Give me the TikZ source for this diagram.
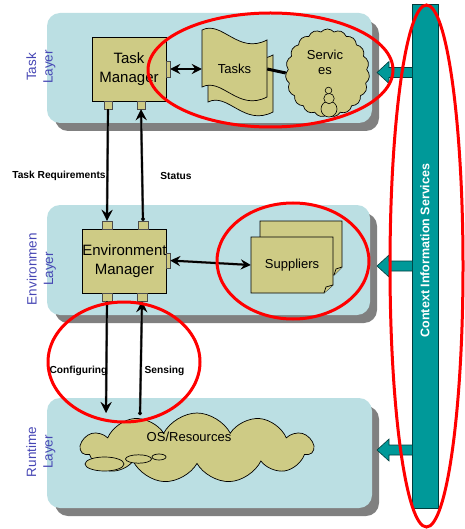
\documentclass[tikz,border=0pt]{standalone}
\usepackage{fontspec}
\setmainfont{Liberation Sans}
\usetikzlibrary{shapes.symbols,arrows.meta}
\definecolor{panel}{RGB}{187,223,227}
\definecolor{khaki}{RGB}{206,203,133}
\definecolor{tealc}{RGB}{0,153,153}
\definecolor{lbl}{RGB}{70,70,180}
\definecolor{shad}{RGB}{128,128,128}
\newcommand{\cisarrow}[1]{%
  \draw[tealarr] (412,#1-5) -- (389,#1-5) -- (389,#1-11) -- (377,#1) -- (389,#1+11) -- (389,#1+5) -- (412,#1+5);}
\begin{document}
\begin{tikzpicture}[x=1pt,y=-1pt,
  panelbox/.style={fill=panel, rounded corners=13pt},
  panelshadow/.style={fill=shad, rounded corners=13pt},
  mgr/.style={draw=black, fill=khaki, line width=0.8pt, inner sep=0pt, align=center,
    font=\fontsize{15}{19}\selectfont},
  port/.style={draw=black!70, fill=khaki, line width=0.4pt, inner sep=0pt},
  shapeline/.style={draw=black, fill=khaki, line width=0.7pt},
  txt/.style={inner sep=0pt, align=center, font=\fontsize{13}{15}\selectfont},
  lbltxt/.style={inner sep=0pt, font=\bfseries\fontsize{10.2}{12}\selectfont},
  layerlbl/.style={inner sep=0pt, align=center, rotate=90, text=lbl,
    font=\fontsize{13.5}{16.5}\selectfont},
  arr/.style={line width=1.8pt, -{Stealth[length=11pt,width=11pt,inset=4pt]}},
  arrd/.style={line width=1.8pt, {Circle[length=3.5pt]}-{Stealth[length=11pt,width=11pt,inset=4pt]}},
  arrs/.style={draw=shad, line width=2.6pt, -{Stealth[length=11pt,width=11pt,inset=4pt]}, xshift=3pt, yshift=-1.5pt},
  darr/.style={line width=2pt, {Stealth[length=10pt,width=10pt,inset=3.5pt]}-{Stealth[length=10pt,width=10pt,inset=3.5pt]}},
  darrs/.style={draw=shad!70, line width=2.6pt, {Stealth[length=10pt,width=10pt,inset=3.5pt]}-{Stealth[length=10pt,width=10pt,inset=3.5pt]}, xshift=2pt, yshift=-2.5pt},
  tealarr/.style={fill=tealc, draw=black!60!tealc, line width=0.6pt},
  redring/.style={draw=red, line width=3pt}
]
\useasboundingbox (0,0) rectangle (464,529);

% layer panels
\fill[panelshadow] (55,21) rectangle (379,131);
\fill[panelbox] (47,13) rectangle (372,123);
\fill[panelshadow] (55,213) rectangle (377,323);
\fill[panelbox] (47,205) rectangle (370,315);
\fill[panelshadow] (55,406) rectangle (379,516);
\fill[panelbox] (47,398) rectangle (372,508);

% layer labels
\node[layerlbl] (ltask) at (41,67) {Task\\Layer};
\node[layerlbl] (lenv) at (41.5,269) {Environmen\\Layer};
\node[layerlbl] (lrun) at (41,452) {Runtime\\Layer};

% context bar
\node[fill=tealc, draw=black!60!tealc, line width=0.6pt, minimum width=26pt, minimum height=504pt, inner sep=0pt] (cis) at (425,256) {};
\node[rotate=90, text=white, inner sep=0pt, font=\bfseries\fontsize{12.5}{14}\selectfont] (cistxt) at (425,250.5) {Context Information Services};
\cisarrow{72.5}
\cisarrow{266}
\cisarrow{450}

% task manager
\node[mgr, minimum width=74pt, minimum height=64pt] (tm) at (129,69) {Task\\Manager};
\node[port, minimum width=8pt, minimum height=8pt] (tmB1) at (108,105) {};
\node[port, minimum width=8pt, minimum height=8pt] (tmB2) at (141,105) {};
\node[port, minimum width=4pt, minimum height=16pt] (tmR) at (168,69) {};

% environment manager
\node[mgr, minimum width=83pt, minimum height=64pt] (em) at (124.5,261) {Environment\\Manager};
\node[port, minimum width=10pt, minimum height=8pt] (emT1) at (107,225) {};
\node[port, minimum width=10pt, minimum height=8pt] (emT2) at (143,225) {};
\node[port, minimum width=10pt, minimum height=8pt] (emB1) at (107,297) {};
\node[port, minimum width=10pt, minimum height=8pt] (emB2) at (142,297) {};
\node[port, minimum width=4pt, minimum height=15pt] (emR) at (168,260.5) {};

% tasks (multi-document)
\draw[shapeline] (208,45) .. controls (228,35) and (244,70) .. (273,55) -- (273,112)
  .. controls (244,127) and (228,92) .. (208,102) -- cycle;
\draw[shapeline] (202,30) .. controls (222,20) and (238,55) .. (267,40) -- (267,97)
  .. controls (238,112) and (222,77) .. (202,87) -- cycle;
\node[txt, minimum width=65pt, minimum height=20pt] (tasks) at (234.5,69) {Tasks};

% services cloud
\node[cloud, shapeline, cloud puffs=19, cloud puff arc=100, aspect=0.95,
  minimum width=84pt, minimum height=88pt, inner sep=0pt] (svc) at (327.5,73) {};
\node[txt] (svctxt) at (325,62) {Servic\\es};
\draw[black, fill=khaki, line width=0.6pt] (329,109) circle (8);
\draw[black, fill=khaki, line width=0.6pt] (329,98.5) circle (5.2);
\draw[black, fill=khaki, line width=0.6pt] (328.5,90.5) circle (3.3);

% suppliers (stacked notes)
\draw[shapeline] (260,221) -- (342,221) -- (342,267) -- (334,275) -- (260,275) -- cycle;
\draw[shapeline] (334,275) -- (336,269) -- (342,267);
\draw[shapeline] (251,237) -- (333,237) -- (333,285) -- (324,293) -- (251,293) -- cycle;
\draw[shapeline] (324,293) -- (326,287) -- (333,285);
\node[txt, minimum width=82pt, minimum height=56pt] (sup) at (292,265) {Suppliers};

% OS / resources cloud
\node[cloud, shapeline, cloud puffs=11, cloud puff arc=125, aspect=3.3,
  minimum width=232pt, minimum height=70pt, inner sep=0pt] (os) at (197,448) {};
\draw[shapeline] (104.5,464) ellipse (19.5 and 7);
\draw[shapeline] (138.5,459) ellipse (13 and 4.2);
\draw[shapeline] (159,457) ellipse (7 and 3);
\node[txt] (ostxt) at (189,437) {OS/Resources};
\coordinate (rtA) at (106,413);
\coordinate (rtB) at (140,415);

% connectors with shadows
\draw[arrs] (tmB1.south) -- (emT1.north);
\draw[arr] (tmB1.south) -- (emT1.north);
\draw[arrs] (emT2.north) -- (tmB2.south);
\draw[arrd] (emT2.north) -- (tmB2.south);
\draw[arrs] (emB1.south) -- (rtA);
\draw[arrd] (emB1.south) -- (rtA);
\draw[arrs] (rtB) -- (emB2.south);
\draw[arrd] (rtB) -- (emB2.south);
\draw[darrs] (tmR.east) -- (tmR.east -| tasks.west);
\draw[darr] (tmR.east) -- (tmR.east -| tasks.west);
\draw[darrs] (emR.east) -- (sup.west);
\draw[darr] (emR.east) -- (sup.west);
\draw[line width=3pt] (tasks.east) -- (svc.west);

% connector labels
\node[lbltxt] (ltr) at (59,176) {Task Requirements};
\node[lbltxt] (lst) at (176,176) {Status};
\node[lbltxt] (lcf) at (78.5,371) {Configuring};
\node[lbltxt] (lsn) at (164.5,371) {Sensing};

% red highlight rings
\draw[redring] (270.5,70) ellipse (122.5 and 57);
\draw[redring] (426.5,266) ellipse (36.5 and 261);
\draw[redring] (293,261) ellipse (76 and 58);
\draw[redring] (124,362) ellipse (76 and 60);
\end{tikzpicture}
\end{document}
